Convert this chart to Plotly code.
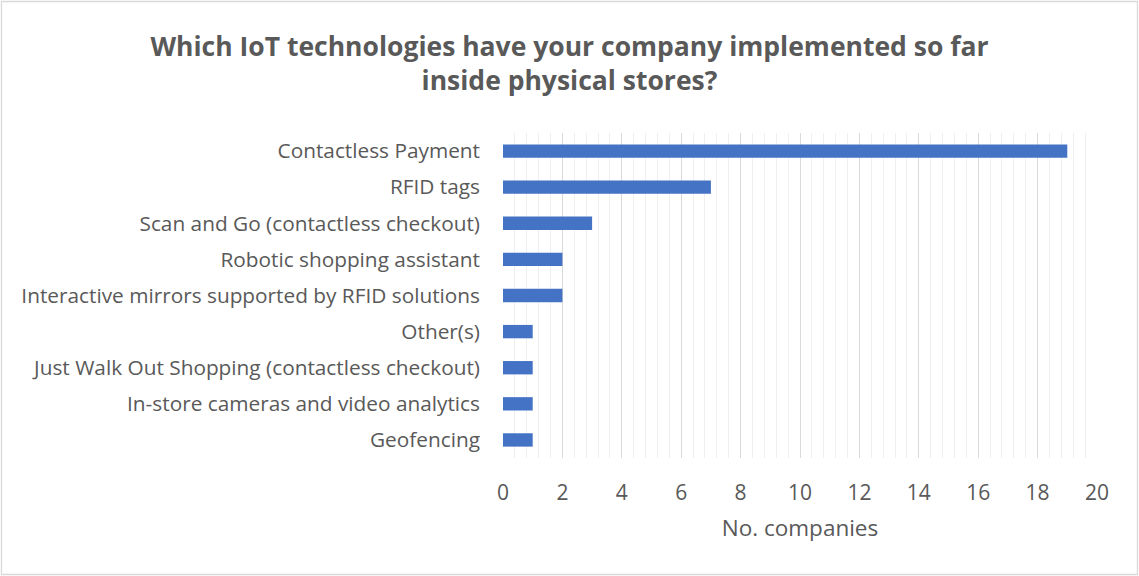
import plotly.graph_objects as go

technologies = [
    "Contactless Payment",
    "RFID tags",
    "Scan and Go (contactless checkout)",
    "Robotic shopping assistant",
    "Interactive mirrors supported by RFID solutions",
    "Other(s)",
    "Just Walk Out Shopping (contactless checkout)",
    "In-store cameras and video analytics",
    "Geofencing",
]
companies = [19, 7, 3, 2, 2, 1, 1, 1, 1]
x_ticks = list(range(0, 21, 2))

W, H = 1139, 576
L, R, T, B = 503, 42, 133, 118
pw, ph = W - L - R, H - T - B

fig = go.Figure(
    go.Bar(
        x=companies,
        y=technologies,
        orientation="h",
        marker=dict(color="#4472C4", line=dict(width=0)),
        width=0.37,
    )
)

font_family = "Open Sans"
fig.update_layout(
    width=W,
    height=H,
    margin=dict(l=L, r=R, t=T, b=B, pad=0),
    paper_bgcolor="white",
    plot_bgcolor="white",
    showlegend=False,
    font=dict(family=font_family, color="#595959", size=20),
    title=dict(
        text="<b>Which IoT technologies have your company implemented so far<br>inside physical stores?</b>",
        x=0.5,
        xanchor="center",
        y=1 - 56 / H,
        yanchor="middle",
        font=dict(family=font_family, size=26.5, color="#595959"),
    ),
    xaxis=dict(
        range=[0, 20],
        tickvals=x_ticks,
        showgrid=True,
        gridcolor="#d9d9d9",
        gridwidth=1.3,
        minor=dict(dtick=0.4, showgrid=True, gridcolor="#efefef", gridwidth=1.3),
        zeroline=False,
        showline=False,
        ticks="",
        ticklabelstandoff=20,
        tickfont=dict(size=21),
        title=dict(text="No. companies", standoff=15, font=dict(size=22.5)),
    ),
    yaxis=dict(
        categoryorder="array",
        categoryarray=technologies,
        autorange="reversed",
        showgrid=False,
        ticks="",
        ticklabelstandoff=22,
        tickfont=dict(size=20.8),
    ),
    shapes=[
        dict(
            type="rect",
            xref="paper",
            yref="paper",
            x0=(1.5 - L) / pw,
            x1=(1137.5 - L) / pw,
            y0=(T + ph - 574.5) / ph,
            y1=(T + ph - 1.5) / ph,
            line=dict(color="#d9d9d9", width=1.3),
            fillcolor="rgba(0,0,0,0)",
            layer="below",
        )
    ],
)

fig.write_html("out.html")
